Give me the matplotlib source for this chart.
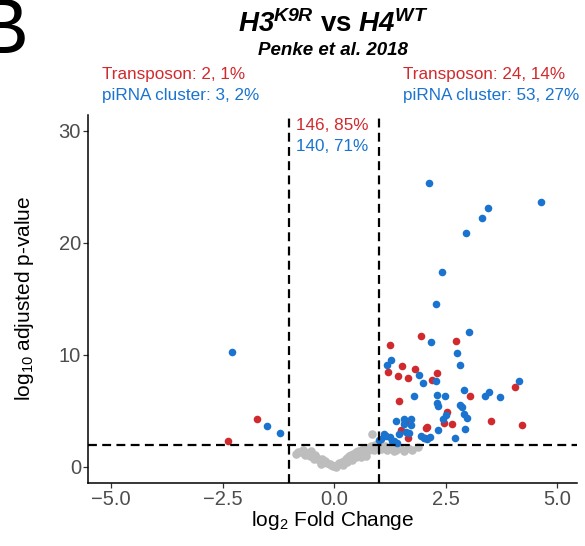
import matplotlib
matplotlib.use("Agg")
import matplotlib.pyplot as plt

plt.rcParams["font.family"] = ["Liberation Sans", "DejaVu Sans"]
plt.rcParams["mathtext.fontset"] = "custom"
plt.rcParams["mathtext.rm"] = "Liberation Sans"
plt.rcParams["mathtext.sf"] = "Liberation Sans:bold:italic"
plt.rcParams["axes.unicode_minus"] = True

# ---- data (log2 fold change, -log10 adjusted p) ----
tp_x = [-2.38, -1.73, 1.94, 1.26, 2.74, 1.52, 1.20, 1.44, 1.65, 1.81, 2.32, 2.20,
        4.06, 3.05, 1.46, 2.54, 2.47, 2.65, 3.51, 4.21, 2.09, 1.51, 1.66, 2.05, 1.60, 2.06]
tp_y = [2.29, 4.29, 11.67, 10.90, 11.22, 9.05, 8.51, 8.10, 7.95, 8.78, 8.39, 7.80,
        7.14, 6.37, 5.92, 4.94, 3.96, 3.84, 4.11, 3.72, 3.60, 3.30, 2.62, 2.60, 4.05, 3.50]

pi_x = [-2.29, -1.50, -1.21,
        2.13, 4.64, 3.46, 3.33, 2.95, 2.42, 2.29, 3.02, 2.17, 2.76, 2.83, 1.27, 1.19,
        1.91, 2.00, 2.29, 4.16, 2.91, 3.48, 3.38, 3.72, 2.32, 2.49, 1.79, 2.32, 2.34,
        2.82, 2.86, 2.91, 2.99, 2.50, 2.45, 2.94, 2.33, 2.71, 1.38, 1.57, 1.58, 1.73,
        1.73, 1.45, 1.61, 1.69, 1.17, 1.26, 1.29, 1.05, 1.41, 1.94, 2.02, 2.08, 2.15,
        1.00, 1.12, 1.35]
pi_y = [10.24, 3.66, 3.04,
        25.36, 23.63, 23.10, 22.20, 20.90, 17.38, 14.52, 12.08, 11.19, 10.20, 9.13, 9.55, 9.10,
        8.21, 7.47, 7.68, 7.71, 6.88, 6.67, 6.37, 6.25, 6.40, 6.31, 6.31, 5.68, 5.48,
        5.57, 5.39, 4.73, 4.35, 4.64, 4.29, 3.42, 3.33, 2.62, 4.11, 4.26, 3.84, 4.26,
        3.75, 2.95, 3.15, 3.06, 2.77, 2.65, 2.35, 2.47, 2.17, 2.77, 2.56, 2.47, 2.71,
        2.40, 2.90, 2.30]

ns_x = [-0.86, -0.82, -0.75, -0.70, -0.66, -0.60, -0.55, -0.52, -0.47, -0.42, -0.38,
        -0.33, -0.28, -0.24, -0.20, -0.15, -0.10, -0.06, -0.02, 0.02, 0.06, 0.10, 0.14,
        0.18, 0.22, 0.26, 0.30, 0.34, 0.38, 0.42, 0.46, 0.50, 0.54, 0.58, 0.62, 0.66,
        0.70, 0.74, 0.78, 0.82, 0.84, 0.88, 0.92, 0.96, 1.00, 1.05, 1.10, 1.18, 1.25,
        1.32, 1.40, 1.48, 1.56, 1.65, 1.75, 1.88, 0.60, 0.72, 0.40, 0.20, -0.45,
        -0.30, 0.05, 0.30, 0.50, 0.90, 1.15, 1.35]
ns_y = [1.20, 1.35, 1.30, 1.50, 1.10, 1.25, 1.00, 1.40, 0.90, 1.05, 0.80, 0.65,
        0.75, 0.50, 0.55, 0.35, 0.30, 0.15, 0.10, 0.05, 0.20, 0.35, 0.25, 0.45,
        0.50, 0.70, 0.80, 0.95, 1.05, 1.20, 1.10, 1.30, 1.45, 1.25, 1.50, 1.60,
        1.45, 1.70, 1.55, 1.85, 2.95, 1.70, 1.95, 1.80, 2.20, 1.60, 1.75, 1.55, 1.70,
        1.60, 1.50, 1.70, 1.45, 1.65, 1.55, 1.80, 0.90, 1.00, 0.60, 0.20, 0.70,
        0.30, 0.00, 0.40, 0.85, 1.50, 1.85, 1.40]

x_ticks = [-5.0, -2.5, 0.0, 2.5, 5.0]
y_ticks = [0, 10, 20, 30]

RED = "#D12A2E"
BLUE = "#1A73CF"
GREY = "#BDBDBD"

fig = plt.figure(figsize=(5.85, 5.46), dpi=100)
ax = fig.add_axes([88 / 585, 1 - 483 / 546, (577 - 88) / 585, (483 - 115) / 546])

ax.scatter(ns_x, ns_y, s=38, color=GREY, linewidths=0, zorder=2)
ax.scatter(tp_x, tp_y, s=30, color=RED, linewidths=0, zorder=3)
ax.scatter(pi_x, pi_y, s=30, color=BLUE, linewidths=0, zorder=3)

for xv in (-1, 1):
    ax.axvline(xv, color="black", lw=1.6, ls=(0, (4, 2.4)), zorder=4)
ax.axhline(2, color="black", lw=1.6, ls=(0, (4, 2.4)), zorder=4)

ax.set_xlim(-5.52, 5.45)
ax.set_ylim(-1.43, 31.4)
ax.set_xticks(x_ticks)
ax.set_xticklabels([f"{t:.1f}".replace("-", "\u2212") for t in x_ticks])
ax.set_yticks(y_ticks)
for side in ("top", "right"):
    ax.spines[side].set_visible(False)
for side in ("left", "bottom"):
    ax.spines[side].set_linewidth(1.1)
ax.tick_params(labelsize=14.5, labelcolor="#4D4D4D", color="#333333",
               length=3.5, width=0.9, pad=1.5)

ax.set_xlabel(r"log$_{\mathrm{2}}$ Fold Change", fontsize=15, labelpad=0)
ax.set_ylabel(r"log$_{\mathrm{10}}$ adjusted p-value", fontsize=15, labelpad=16)

# title block
fig.text(333 / 585, 1 - 32 / 546, r"$\mathsf{H3^{K9R}}$ vs $\mathsf{H4^{WT}}$",
         ha="center", va="baseline", fontsize=20, fontweight="bold")
fig.text(333 / 585, 1 - 55 / 546, "Penke et al. 2018", ha="center", va="baseline",
         fontsize=13.5, fontweight="bold", style="italic")
fig.text(-23 / 585, 1 - 53 / 546, "B", ha="left", va="baseline", fontsize=56)

fig.text(102 / 585, 1 - 79 / 546, "Transposon: 2, 1%", color=RED, fontsize=12.3)
fig.text(102 / 585, 1 - 100 / 546, "piRNA cluster: 3, 2%", color=BLUE, fontsize=12.3)
fig.text(403 / 585, 1 - 79 / 546, "Transposon: 24, 14%", color=RED, fontsize=12.3)
fig.text(403 / 585, 1 - 100 / 546, "piRNA cluster: 53, 27%", color=BLUE, fontsize=12.3)
fig.text(296 / 585, 1 - 130 / 546, "146, 85%", color=RED, fontsize=12.3)
fig.text(296 / 585, 1 - 151 / 546, "140, 71%", color=BLUE, fontsize=12.3)

fig.savefig("out.png", dpi=100)
